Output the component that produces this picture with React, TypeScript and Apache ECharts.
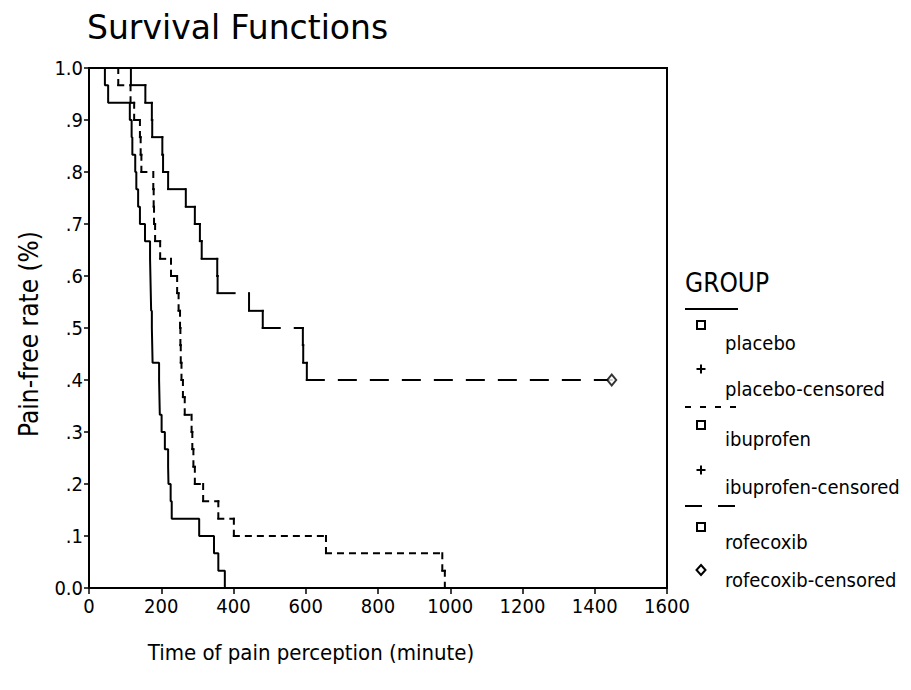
import React, { useEffect, useRef } from "react";
import * as echarts from "echarts";

// ---- Data (time in minutes, survival proportion) ----
const placeboTimes = [0, 44, 53, 113, 118, 120, 128, 131, 136, 141, 155, 169, 170, 171, 172, 174, 175, 176, 194, 195, 196, 201, 210, 219, 220, 226, 229, 305, 346, 358, 376];
const placeboSurv = [1.0, 0.967, 0.933, 0.9, 0.867, 0.833, 0.8, 0.767, 0.733, 0.7, 0.667, 0.633, 0.6, 0.567, 0.533, 0.5, 0.467, 0.433, 0.4, 0.367, 0.333, 0.3, 0.267, 0.233, 0.2, 0.167, 0.133, 0.1, 0.067, 0.033, 0.0];

const ibuprofenTimes = [0, 81, 115, 125, 141, 143, 145, 178, 179, 180, 183, 197, 227, 244, 248, 252, 253, 254, 256, 260, 265, 284, 286, 289, 293, 316, 358, 401, 656, 978, 985];
const ibuprofenSurv = [1.0, 0.967, 0.933, 0.9, 0.867, 0.833, 0.8, 0.767, 0.733, 0.7, 0.667, 0.633, 0.6, 0.567, 0.533, 0.5, 0.467, 0.433, 0.4, 0.367, 0.333, 0.3, 0.267, 0.233, 0.2, 0.167, 0.133, 0.1, 0.067, 0.033, 0.0];

const rofecoxibTimes = [0, 116, 156, 174, 175, 203, 205, 219, 268, 293, 307, 312, 355, 356, 443, 481, 592, 593, 603, 1447];
const rofecoxibSurv = [1.0, 0.967, 0.933, 0.9, 0.867, 0.833, 0.8, 0.767, 0.733, 0.7, 0.667, 0.633, 0.6, 0.567, 0.533, 0.5, 0.467, 0.433, 0.4, 0.4];

const rofecoxibCensoredTimes = [1447];
const rofecoxibCensoredSurv = [0.4];

const xTicks = { min: 0, max: 1600, interval: 200 };
const yTicks = { min: 0, max: 1, interval: 0.1 };

const titleText = "Survival Functions";
const xTitle = "Time of pain perception (minute)";
const yTitle = "Pain-free rate (%)";
const legendTitle = "GROUP";
const legendLabels = [
  "placebo",
  "placebo-censored",
  "ibuprofen",
  "ibuprofen-censored",
  "rofecoxib",
  "rofecoxib-censored",
];

const COND = "'DejaVu Sans Condensed', 'Liberation Sans Narrow', 'DejaVu Sans', sans-serif";
const NARROW = "'Liberation Sans Narrow', 'DejaVu Sans Condensed', 'DejaVu Sans', sans-serif";
const SANS = "'DejaVu Sans', Verdana, sans-serif";

const IBU_DASH = [5, 7];
const ROF_DASH = [17, 15];

function pairs(t: number[], v: number[]) {
  return t.map((x, i) => [x, v[i]]);
}
// each step: [previous time, previous survival, time, survival]
function steps(t: number[], v: number[]) {
  return t.slice(1).map((x, i) => [t[i], v[i], x, v[i + 1]]);
}

function yFmt(v: number) {
  if (Math.abs(v) < 1e-9) return "0.0";
  if (Math.abs(v - 1) < 1e-9) return "1.0";
  return "." + Math.round(v * 10);
}

function stepSeries(name: string, t: number[], v: number[], dash: number[] | null) {
  return {
    type: "custom",
    name,
    data: steps(t, v),
    encode: { x: [0, 2], y: [1, 3] },
    clip: false,
    z: 3,
    renderItem: (_params: any, api: any) => {
      const a = api.coord([api.value(0), api.value(1)]);
      const b = api.coord([api.value(2), api.value(1)]);
      const c = api.coord([api.value(2), api.value(3)]);
      const style: any = { stroke: "#000", lineWidth: 2, fill: "none", lineCap: "square" };
      if (dash) style.lineDash = dash;
      return {
        type: "group",
        children: [
          { type: "line", shape: { x1: a[0], y1: a[1], x2: b[0], y2: b[1] }, style },
          { type: "line", shape: { x1: b[0], y1: b[1], x2: c[0], y2: c[1] }, style },
        ],
      };
    },
  };
}

function squareMarker(cx: number, cy: number) {
  return {
    type: "rect",
    shape: { x: cx - 4, y: cy - 4, width: 8, height: 8 },
    style: { fill: "#fff", stroke: "#000", lineWidth: 2 },
  };
}
function plusMarker(cx: number, cy: number) {
  return {
    type: "group",
    children: [
      { type: "line", shape: { x1: cx - 4.5, y1: cy, x2: cx + 4.5, y2: cy }, style: { stroke: "#000", lineWidth: 2 } },
      { type: "line", shape: { x1: cx, y1: cy - 4.5, x2: cx, y2: cy + 4.5 }, style: { stroke: "#000", lineWidth: 2 } },
    ],
  };
}
function diamondMarker(cx: number, cy: number) {
  return {
    type: "polygon",
    shape: { points: [[cx, cy - 5], [cx + 4.5, cy], [cx, cy + 5], [cx - 4.5, cy]] },
    style: { fill: "#fff", stroke: "#000", lineWidth: 2 },
  };
}
function legendText(text: string, y: number) {
  return {
    type: "text",
    x: 725,
    y,
    style: { text, fontSize: 20, fontFamily: COND, fill: "#000", align: "left", verticalAlign: "middle" },
  };
}
function sampleLine(y: number, dash: number[] | null) {
  const style: any = { stroke: "#000", lineWidth: 2, lineCap: "square" };
  if (dash) style.lineDash = dash;
  return {
    type: "line",
    shape: { x1: 686, y1: y, x2: 737, y2: y },
    style,
  };
}

export default function App() {
  const ref = useRef<HTMLDivElement>(null);
  useEffect(() => {
    document.body.style.margin = "0";
    if (!ref.current) return;
    const chart = echarts.init(ref.current, undefined, { renderer: "svg" });
    const option: any = {
      animation: false,
      backgroundColor: "#fff",
      grid: {
        left: 89,
        top: 68,
        width: 578,
        height: 520,
        show: true,
        borderColor: "#000",
        borderWidth: 2,
        backgroundColor: "transparent",
      },
      xAxis: {
        type: "value",
        min: xTicks.min,
        max: xTicks.max,
        interval: xTicks.interval,
        axisLine: { show: true, onZero: false, lineStyle: { color: "#000", width: 2 } },
        axisTick: { show: true, length: 6, lineStyle: { color: "#000", width: 1.5 } },
        axisLabel: { color: "#000", fontSize: 20, fontFamily: NARROW, margin: 8, formatter: (v: number) => String(v) },
        splitLine: { show: false },
      },
      yAxis: {
        type: "value",
        min: yTicks.min,
        max: yTicks.max,
        interval: yTicks.interval,
        axisLine: { show: true, onZero: false, lineStyle: { color: "#000", width: 2 } },
        axisTick: { show: true, length: 5, lineStyle: { color: "#000", width: 1.5 } },
        axisLabel: { color: "#000", fontSize: 20, fontFamily: NARROW, margin: 6, formatter: yFmt },
        splitLine: { show: false },
      },
      series: [
        {
          type: "line",
          name: "placebo",
          step: "end",
          data: pairs(placeboTimes, placeboSurv),
          symbol: "none",
          lineStyle: { color: "#000", width: 2, type: "solid" },
          z: 3,
        },
        stepSeries("ibuprofen", ibuprofenTimes, ibuprofenSurv, IBU_DASH),
        stepSeries("rofecoxib", rofecoxibTimes, rofecoxibSurv, ROF_DASH),
        {
          type: "scatter",
          name: "rofecoxib-censored",
          data: pairs(rofecoxibCensoredTimes, rofecoxibCensoredSurv),
          symbol: "diamond",
          symbolSize: [9, 11],
          itemStyle: { color: "#fff", borderColor: "#000", borderWidth: 2 },
          z: 5,
        },
      ],
      graphic: [
        {
          type: "text",
          x: 87,
          y: 27,
          style: { text: titleText, fontSize: 33, fontFamily: SANS, fill: "#000", align: "left", verticalAlign: "middle" },
        },
        {
          type: "text",
          x: 311,
          y: 652,
          style: { text: xTitle, fontSize: 22, fontFamily: COND, fill: "#000", align: "center", verticalAlign: "middle" },
        },
        {
          type: "text",
          x: 29,
          y: 334,
          rotation: Math.PI / 2,
          style: { text: yTitle, fontSize: 26, fontFamily: COND, fill: "#000", align: "center", verticalAlign: "middle" },
        },
        {
          type: "text",
          x: 685,
          y: 283,
          style: { text: legendTitle, fontSize: 26, fontFamily: COND, fill: "#000", align: "left", verticalAlign: "middle" },
        },
        sampleLine(309, null),
        squareMarker(701, 325),
        legendText(legendLabels[0], 343),
        plusMarker(701, 369),
        legendText(legendLabels[1], 389),
        sampleLine(407, [4, 11]),
        squareMarker(701, 425),
        legendText(legendLabels[2], 439),
        plusMarker(701, 470),
        legendText(legendLabels[3], 487),
        sampleLine(506, [15, 18]),
        squareMarker(701, 527),
        legendText(legendLabels[4], 542),
        diamondMarker(701, 570),
        legendText(legendLabels[5], 580),
      ],
    };
    chart.setOption(option);
    return () => chart.dispose();
  }, []);
  return <div ref={ref} style={{ width: 911, height: 690 }} />;
}
